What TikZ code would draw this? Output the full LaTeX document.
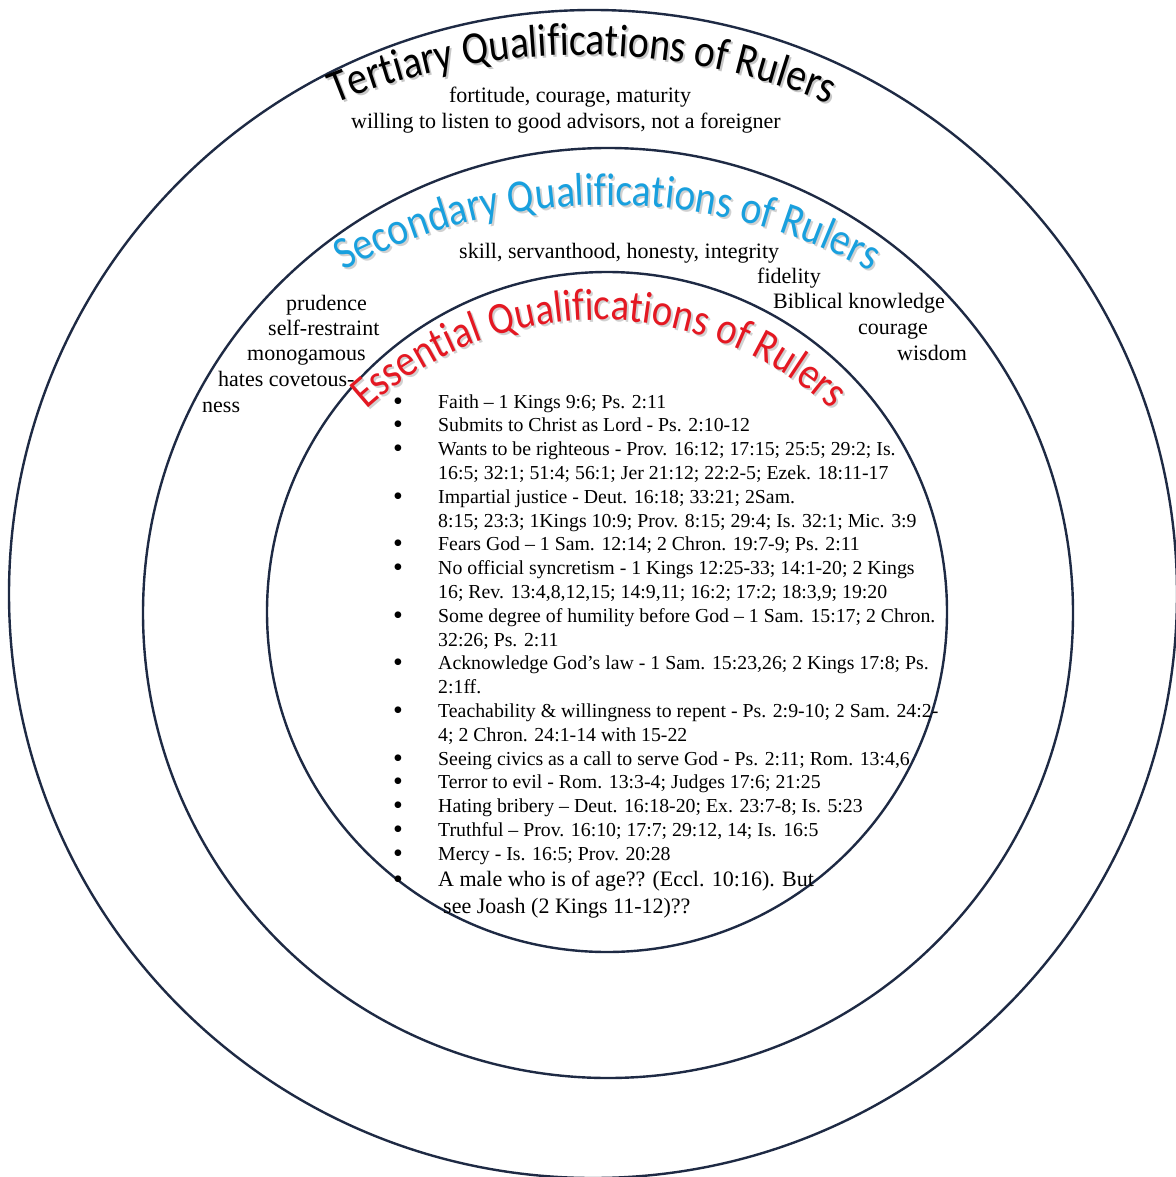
\documentclass[tikz,border=0pt]{standalone}
\usepackage{fontspec}
\setmainfont{Liberation Serif}
\newfontfamily\titlefont[FakeStretch=0.86]{Carlito}
\usetikzlibrary{decorations.text,calc}
\definecolor{ringcol}{RGB}{30,42,68}
\definecolor{secblue}{RGB}{25,160,222}
\definecolor{essred}{RGB}{228,24,34}
\newcommand\tfmt{\titlefont\fontsize{46}{46}\selectfont}
\newcommand\efmt{\titlefont\fontsize{45}{45}\selectfont}
\tikzset{
  ringline/.style={draw=ringcol, line width=2.4pt},
  bigtxt/.style={font=\fontsize{22}{26}\selectfont, inner sep=0pt, anchor=base west},
  cbigtxt/.style={font=\fontsize{22}{26}\selectfont, inner sep=0pt, anchor=base},
  itemtxt/.style={font=\fontsize{19.8}{23.8}\selectfont, inner sep=0pt, anchor=base west},
  bul/.style={font=\fontsize{28}{28}\selectfont, inner sep=0pt, anchor=base},
}
\begin{document}
\begin{tikzpicture}[x=1pt,y=-1pt]
\useasboundingbox (0,0) rectangle (1175,1177);
\fill[white] (0,0) rectangle (1175,1177);

% rings
\draw[ringline] (593,594) circle[radius=584];
\draw[ringline] (608,613) circle[radius=465];
\draw[ringline] (607,612) circle[radius=340];

% titles (shadow then text)
\path[decorate,decoration={text along path,text align=center,
  text={|\tfmt\color{black!22}|Tertiary Qualifications of Rulers}}]
  ($(584,707)+(235:650)$) arc[start angle=235,end angle=305,radius=650];
\path[decorate,decoration={text along path,text align=center,
  text={|\tfmt\color{black}|Tertiary Qualifications of Rulers}}]
  ($(582,705)+(235:650)$) arc[start angle=235,end angle=305,radius=650];

\path[decorate,decoration={text along path,text align=center,
  text={|\tfmt\color{black!18}|Secondary Qualifications of Rulers}}]
  ($(609,765)+(230:558)$) arc[start angle=230,end angle=310,radius=558];
\path[decorate,decoration={text along path,text align=center,
  text={|\tfmt\color{secblue}|Secondary Qualifications of Rulers}}]
  ($(607,763)+(230:558)$) arc[start angle=230,end angle=310,radius=558];

\path[decorate,decoration={text along path,text align=center,
  text={|\efmt\color{black!18}|Essential Qualifications of Rulers}}]
  ($(601,668)+(200:346)$) arc[start angle=200,end angle=340,radius=346];
\path[decorate,decoration={text along path,text align=center,
  text={|\efmt\color{essred}|Essential Qualifications of Rulers}}]
  ($(599,666)+(200:346)$) arc[start angle=200,end angle=340,radius=346];

% tertiary items
\node[cbigtxt] (t1) at (570,103) {fortitude, courage, maturity};
\node[cbigtxt] (t2) at (566,129) {willing to listen to good advisors, not a foreigner};

% secondary items
\node[bigtxt] (s1) at (459,258) {skill, servanthood, honesty, integrity};
\node[bigtxt] (s2) at (757,283) {fidelity};
\node[bigtxt] (s3) at (773,308) {Biblical knowledge};
\node[bigtxt] (s4) at (858,334) {courage};
\node[bigtxt] (s5) at (897,360) {wisdom};
\node[bigtxt] (s6) at (286,310) {prudence};
\node[bigtxt] (s7) at (268,335) {self-restraint};
\node[bigtxt] (s8) at (247,360) {monogamous};
\node[bigtxt] (s9) at (218,386) {hates covetous-};
\node[bigtxt] (s10) at (202,412) {ness};

% essential list
\foreach \yy [count=\i] in {408,431.8,455.6,503.2,550.8,574.6,622.2,669.8,717.4,765,788.8,812.6,836.4,860.2,886}
  \node[bul] (b\i) at (398,\yy+2) {•};

\node[itemtxt] (e1) at (438,408) {Faith – 1 Kings 9:6; Ps. 2:11};
\node[itemtxt] (e2) at (438,431.8) {Submits to Christ as Lord - Ps. 2:10-12};
\node[itemtxt] (e3) at (438,455.6) {Wants to be righteous - Prov. 16:12; 17:15; 25:5; 29:2; Is.};
\node[itemtxt] (e4) at (438,479.4) {16:5; 32:1; 51:4; 56:1; Jer 21:12; 22:2-5; Ezek. 18:11-17};
\node[itemtxt] (e5) at (438,503.2) {Impartial justice - Deut. 16:18; 33:21; 2Sam.};
\node[itemtxt] (e6) at (438,527) {8:15; 23:3; 1Kings 10:9; Prov. 8:15; 29:4; Is. 32:1; Mic. 3:9};
\node[itemtxt] (e7) at (438,550.8) {Fears God – 1 Sam. 12:14; 2 Chron. 19:7-9; Ps. 2:11};
\node[itemtxt] (e8) at (438,574.6) {No official syncretism - 1 Kings 12:25-33; 14:1-20; 2 Kings};
\node[itemtxt] (e9) at (438,598.4) {16; Rev. 13:4,8,12,15; 14:9,11; 16:2; 17:2; 18:3,9; 19:20};
\node[itemtxt] (e10) at (438,622.2) {Some degree of humility before God – 1 Sam. 15:17; 2 Chron.};
\node[itemtxt] (e11) at (438,646) {32:26; Ps. 2:11};
\node[itemtxt] (e12) at (438,669.8) {Acknowledge God’s law - 1 Sam. 15:23,26; 2 Kings 17:8; Ps.};
\node[itemtxt] (e13) at (438,693.6) {2:1ff.};
\node[itemtxt] (e14) at (438,717.4) {Teachability \& willingness to repent - Ps. 2:9-10; 2 Sam. 24:2-};
\node[itemtxt] (e15) at (438,741.2) {4; 2 Chron. 24:1-14 with 15-22};
\node[itemtxt] (e16) at (438,765) {Seeing civics as a call to serve God - Ps. 2:11; Rom. 13:4,6};
\node[itemtxt] (e17) at (438,788.8) {Terror to evil - Rom. 13:3-4; Judges 17:6; 21:25};
\node[itemtxt] (e18) at (438,812.6) {Hating bribery – Deut. 16:18-20; Ex. 23:7-8; Is. 5:23};
\node[itemtxt] (e19) at (438,836.4) {Truthful – Prov. 16:10; 17:7; 29:12, 14; Is. 16:5};
\node[itemtxt] (e20) at (438,860.2) {Mercy - Is. 16:5; Prov. 20:28};
\node[bigtxt] (e21) at (438,886) {A male who is of age?? (Eccl. 10:16). But};
\node[bigtxt] (e22) at (443,913) {see Joash (2 Kings 11-12)??};
\end{tikzpicture}
\end{document}
